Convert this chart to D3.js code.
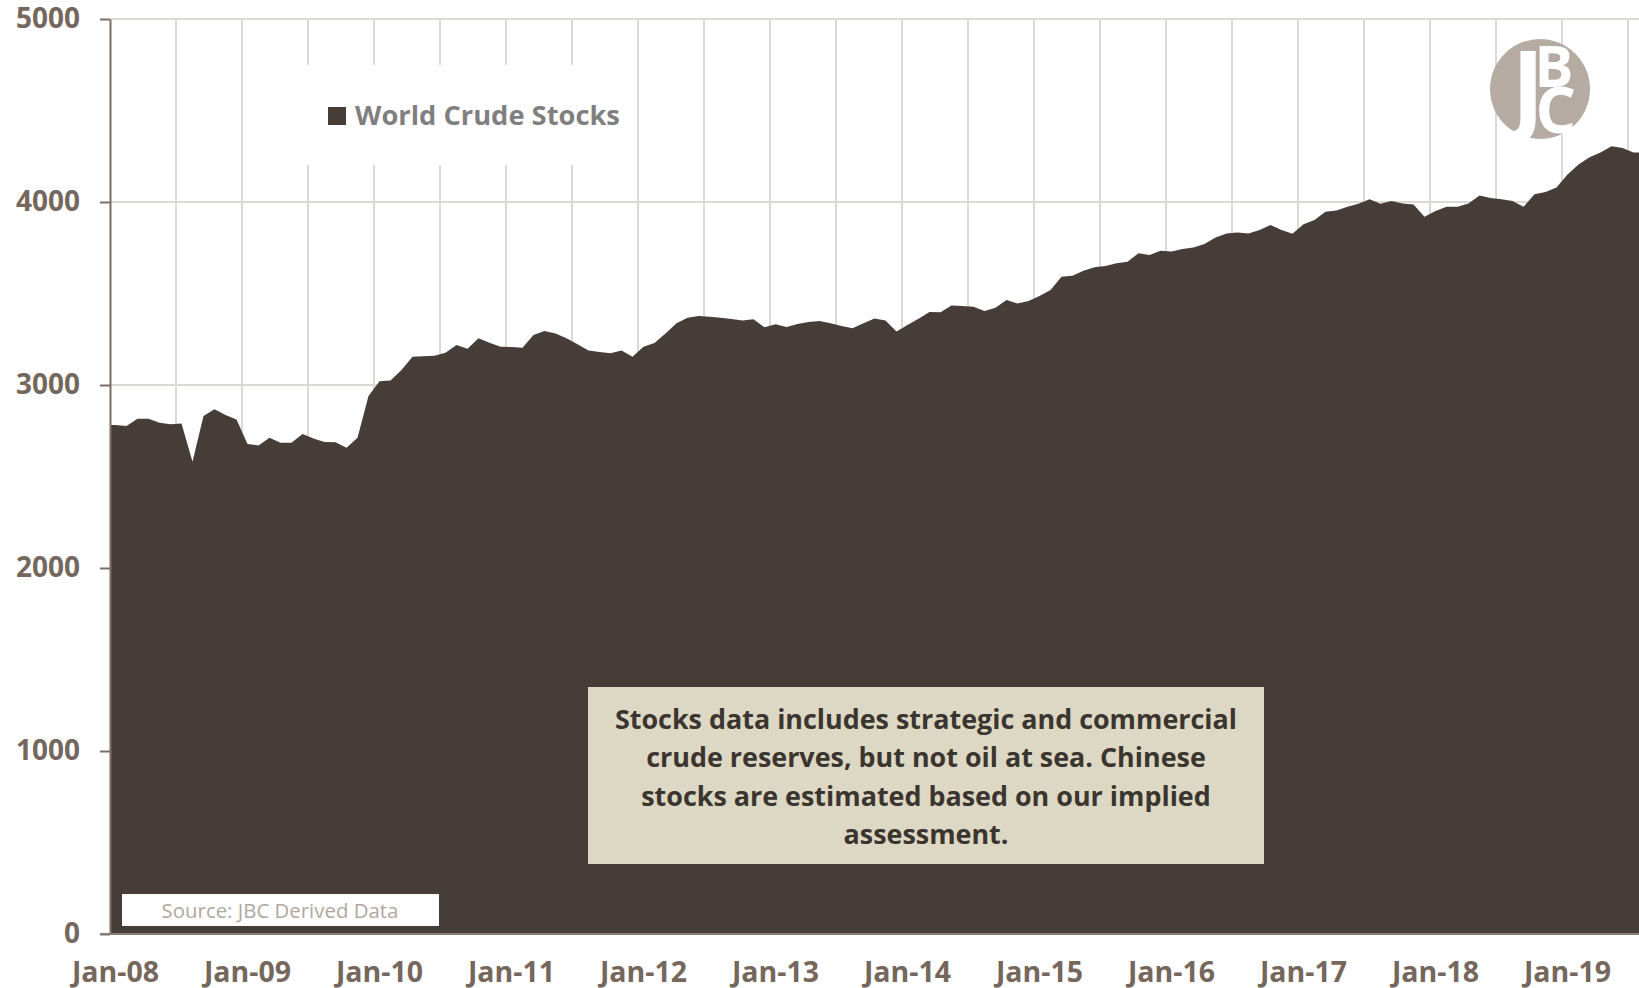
<!DOCTYPE html>
<html>
<head>
<meta charset="utf-8">
<script src="https://cdn.jsdelivr.net/npm/d3@7"></script>
<style>
  body { margin: 0; background: #fff; }
  text { font-family: "Open Sans", sans-serif; }
</style>
</head>
<body>
<svg id="chart"></svg>
<script>
// monthly world crude stocks, Jan-08 .. Jul-19
var stocks = [2781, 2776, 2816, 2816, 2794, 2785, 2790, 2581, 2831, 2867, 2836, 2812,
              2678, 2670, 2712, 2685, 2685, 2732, 2707, 2689, 2687, 2657, 2712, 2940,
              3021, 3024, 3082, 3155, 3157, 3160, 3176, 3219, 3198, 3255, 3231, 3209,
              3208, 3204, 3273, 3295, 3282, 3255, 3222, 3189, 3180, 3173, 3188, 3155,
              3209, 3230, 3282, 3337, 3368, 3377, 3373, 3368, 3361, 3353, 3359, 3315,
              3332, 3317, 3333, 3344, 3350, 3337, 3322, 3310, 3337, 3364, 3352, 3293,
              3328, 3362, 3399, 3397, 3434, 3432, 3428, 3404, 3422, 3464, 3446, 3459,
              3486, 3519, 3592, 3597, 3625, 3643, 3650, 3665, 3674, 3720, 3710, 3733,
              3729, 3743, 3752, 3770, 3806, 3828, 3834, 3828, 3847, 3874, 3847, 3827,
              3878, 3902, 3947, 3954, 3974, 3991, 4015, 3991, 4005, 3992, 3987, 3920,
              3951, 3974, 3974, 3992, 4036, 4022, 4015, 4005, 3974, 4042, 4055, 4079,
              4150, 4205, 4245, 4270, 4305, 4295, 4270];
var yTicks = [0, 1000, 2000, 3000, 4000, 5000];
var fmt = d3.timeFormat("%b-%y");
var months = d3.range(stocks.length).map(function(i) {
    return fmt(d3.timeMonth.offset(new Date(2008, 0, 1), i));
});
var xLabels = months.filter(function(m) { return m.indexOf("Jan") === 0; });
var legendLabel = "World Crude Stocks";
var noteLines = ["Stocks data includes strategic and commercial",
                 "crude reserves, but not oil at sea. Chinese",
                 "stocks are estimated based on our implied",
                 "assessment."];
var sourceText = "Source: JBC Derived Data";

var w = 1639, h = 988;
var mLeft = 110, mRight = 1639, mTop = 19, mBottom = 934;

var svg = d3.select("#chart").attr("width", w).attr("height", h);

var x = d3.scaleBand().domain(months).range([mLeft, mRight]);
var y = d3.scaleLinear().domain([0, 5000]).range([mBottom, mTop]);
var cx = function(m) { return x(m) + x.bandwidth() / 2; };

// gridlines
svg.append("g").selectAll("line")
   .data(months.filter(function(m, i) { return i > 0 && i % 6 === 0; }))
   .enter().append("line")
   .attr("x1", function(d) { return x(d); })
   .attr("x2", function(d) { return x(d); })
   .attr("y1", mTop).attr("y2", mBottom)
   .attr("stroke", "#dcd8d6").attr("stroke-width", 2);

svg.append("g").selectAll("line")
   .data(yTicks.slice(1))
   .enter().append("line")
   .attr("x1", mLeft).attr("x2", mRight)
   .attr("y1", function(d) { return y(d); })
   .attr("y2", function(d) { return y(d); })
   .attr("stroke", "#dcd8d6").attr("stroke-width", 2);

// area, flat to the plot edges like the original
var pts = [{ px: mLeft, v: stocks[0] }]
    .concat(stocks.map(function(v, i) { return { px: cx(months[i]), v: v }; }))
    .concat([{ px: mRight, v: stocks[stocks.length - 1] }]);

var area = d3.area()
    .x(function(d) { return d.px; })
    .y0(y(0))
    .y1(function(d) { return y(d.v); });

svg.append("path")
   .datum(pts)
   .attr("d", area)
   .attr("fill", "#463d38");

// y axis
var yAxis = svg.append("g")
   .attr("transform", "translate(" + mLeft + ",0)")
   .call(d3.axisLeft(y).tickValues(yTicks).tickFormat(d3.format("d"))
         .tickSize(10).tickSizeOuter(0).tickPadding(20));
yAxis.select(".domain").attr("stroke", "#7b6d63").attr("stroke-width", 2);
yAxis.selectAll(".tick line").attr("stroke", "#7b6d63").attr("stroke-width", 2);
yAxis.selectAll(".tick text")
   .attr("fill", "#76675d")
   .attr("font-size", "28px")
   .attr("font-weight", "bold")
   .style("font-family", "'Open Sans', sans-serif");

// x axis
svg.append("line")
   .attr("x1", mLeft - 10).attr("x2", mRight)
   .attr("y1", y(0)).attr("y2", y(0))
   .attr("stroke", "#8a7d74").attr("stroke-width", 2);

svg.append("g").selectAll("text")
   .data(xLabels)
   .enter().append("text")
   .attr("x", function(d) { return cx(d); })
   .attr("y", 982)
   .attr("text-anchor", "middle")
   .attr("font-size", "28.5px")
   .attr("font-weight", "bold")
   .attr("fill", "#76675d")
   .text(function(d) { return d; });

// legend
svg.append("rect")
   .attr("x", 305).attr("y", 65).attr("width", 330).attr("height", 100)
   .attr("fill", "#fff");
svg.append("rect")
   .attr("x", 328).attr("y", 107).attr("width", 18).attr("height", 18)
   .attr("fill", "#463d38");
svg.append("text")
   .attr("x", 355).attr("y", 125)
   .attr("font-size", "27.3px")
   .attr("font-weight", "bold")
   .attr("fill", "#7f7f7f")
   .text(legendLabel);

// note box
svg.append("rect")
   .attr("x", 588).attr("y", 687).attr("width", 676).attr("height", 177)
   .attr("fill", "#ddd8c3");
svg.append("g").selectAll("text")
   .data(noteLines)
   .enter().append("text")
   .attr("x", 926)
   .attr("y", function(d, i) { return 729 + i * 38.3; })
   .attr("text-anchor", "middle")
   .attr("font-size", "26.9px")
   .attr("font-weight", "bold")
   .attr("fill", "#3b3530")
   .text(function(d) { return d; });

// source box
svg.append("rect")
   .attr("x", 122).attr("y", 894).attr("width", 317).attr("height", 32)
   .attr("fill", "#fff");
svg.append("text")
   .attr("x", 280).attr("y", 918)
   .attr("text-anchor", "middle")
   .attr("font-size", "20.4px")
   .attr("fill", "#b0a79f")
   .text(sourceText);

// logo: grey disc with overlapping serif J, B, C
var logo = svg.append("g").attr("transform", "translate(1540,89)");
logo.append("circle").attr("r", 50).attr("fill", "#b5aba2");
var logoFont = "'Liberation Serif', 'DejaVu Serif', serif";
logo.append("text")
   .attr("x", -12).attr("y", 34)
   .attr("text-anchor", "middle")
   .attr("font-family", logoFont)
   .attr("font-size", "100px").attr("font-weight", "bold")
   .attr("fill", "#fff").text("J");
logo.append("text")
   .attr("x", 14).attr("y", -2)
   .attr("text-anchor", "middle")
   .attr("font-family", logoFont)
   .attr("font-size", "58px").attr("font-weight", "bold")
   .attr("fill", "#fff").text("B");
logo.append("text")
   .attr("x", 16).attr("y", 44)
   .attr("text-anchor", "middle")
   .attr("font-family", logoFont)
   .attr("font-size", "64px").attr("font-weight", "bold")
   .attr("fill", "#fff").text("C");
</script>
</body>
</html>
